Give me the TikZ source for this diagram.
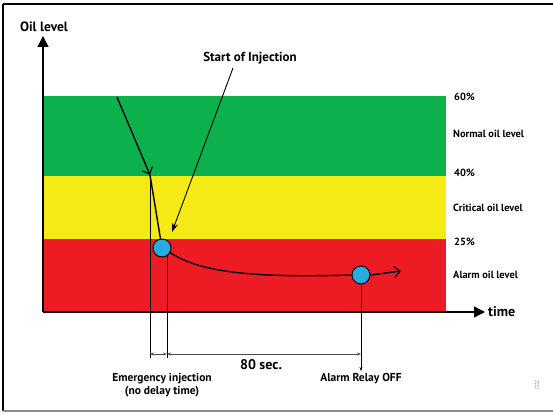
\documentclass[tikz,border=0pt]{standalone}
\usepackage{fontspec}
\setmainfont{PT Sans}
\usetikzlibrary{arrows.meta}
\definecolor{gr}{HTML}{0DB14B}
\definecolor{ye}{HTML}{F5E916}
\definecolor{rd}{HTML}{ED1C24}
\definecolor{bl}{HTML}{29ABE2}
\tikzset{
  lbl/.style={font=\bfseries\fontsize{11.5}{13}\selectfont, inner sep=0pt},
  pct/.style={font=\bfseries\fontsize{10.4}{12}\selectfont, inner sep=0pt, anchor=west},
  dot/.style={circle, draw=black, line width=1pt, fill=bl, minimum size=18pt, inner sep=0pt},
  thin/.style={line width=0.6pt},
  dim/.style={line width=0.6pt, draw=black!70, {Stealth[length=4pt,width=3pt]}-{Stealth[length=4pt,width=3pt]}},
  axis/.style={line width=1.2pt, -{Triangle[length=11pt,width=11pt]}},
  flow/.style={line width=1.4pt},
  barb/.style={-{Straight Barb[length=6pt,width=11pt,line width=1.2pt]}}
}
\begin{document}
\begin{tikzpicture}[x=1pt,y=-1pt]
\useasboundingbox (0,0) rectangle (553,414);
% frame
\draw[line width=1.2pt] (3,4) -- (553,4);
\draw[line width=1.2pt] (3,4) -- (3,411);
\draw[line width=1.2pt, black!45] (3,411) -- (553,411);
% bands
\fill[gr] (43,96) rectangle (446,176);
\fill[ye] (43,176) rectangle (446,239);
\fill[rd] (43,239) rectangle (446,311);
% axes
\coordinate (o) at (43,312);
\coordinate (ytop) at (43,36);
\coordinate (xend) at (485,312);
\draw[axis] (o) -- (ytop);
\draw[axis] (o) -- (xend);
\node[font=\bfseries\fontsize{13.5}{15}\selectfont, inner sep=0pt] (ylab) at (44,27) {Oil level};
\node[font=\bfseries\fontsize{14}{16}\selectfont, inner sep=0pt, anchor=west] (xlab) at (488,312) {time};
% band labels
\node[pct] (p60) at (454,97) {60\%};
\node[pct] (nl) at (453,134) {Normal oil level};
\node[pct] (p40) at (454,173) {40\%};
\node[pct] (cl) at (453,208) {Critical oil level};
\node[pct] (p25) at (454,242) {25\%};
\node[pct] (al) at (453,275) {Alarm oil level};
% level curve
\coordinate (s) at (117,97);
\coordinate (k) at (150,175);
\node[dot] (c1) at (162,248) {};
\node[dot] (c2) at (361,275) {};
\coordinate (e) at (401,271);
\draw[flow, barb] (s) -- (k);
\draw[flow] (k) -- (c1);
\draw[flow] (c1.-30) .. controls (200,272) and (250,278) .. (c2.west);
\draw[flow, barb] (c2.east) -- (e);
% start of injection
\node[font=\bfseries\fontsize{13}{15}\selectfont, inner sep=0pt] (soi) at (250,58) {Start of Injection};
\coordinate (soiA) at (233,68);
\coordinate (soiB) at (172,232);
\draw[line width=0.9pt, -{Stealth[length=9pt,width=6pt]}] (soiA) -- (soiB);
% vertical guide lines
\coordinate (v1t) at (150,175);
\coordinate (v1b) at (150,358);
\coordinate (v2t) at (167,256);
\coordinate (v2b) at (167,358);
\coordinate (v3b) at (361,371);
\draw[thin] (v1t) -- (v1b);
\draw[thin] (v2t) -- (v2b);
\draw[thin, -{Stealth[length=4pt,width=3pt]}] (c2.south) -- (v3b);
% dimensions
\coordinate (d1) at (150,354);
\coordinate (d2) at (167,354);
\coordinate (d3) at (361,354);
\draw[dim] (d1) -- (d2);
\draw[dim] (d2) -- (d3);
\node[font=\bfseries\fontsize{14}{16}\selectfont, inner sep=0pt] (sec) at (261,365) {80 sec.};
\node[lbl, align=center] (emg) at (162,385) {Emergency injection\\(no delay time)};
\node[lbl] (arf) at (361,379) {Alarm Relay OFF};
\node[font=\fontsize{2.5}{3}\selectfont, rotate=90, inner sep=0pt, black!60, align=center] (ref) at (537,385) {Danfoss\\40B404};
\end{tikzpicture}
\end{document}
